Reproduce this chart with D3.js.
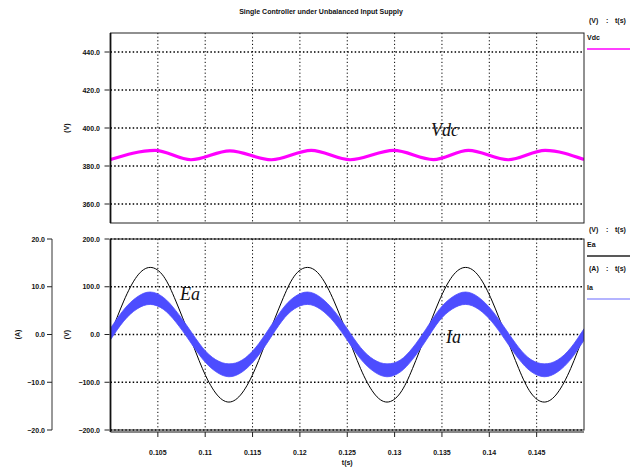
<!DOCTYPE html>
<html>
<head>
<meta charset="utf-8">
<script src="https://cdn.jsdelivr.net/npm/d3@7"></script>
<style>
  html, body { margin: 0; padding: 0; background: #fff; }
  svg { display: block; }
  text { font-family: "Liberation Sans", Arial, sans-serif; font-weight: bold; fill: #111; }
  .trace-label { font-family: "Liberation Serif", "Times New Roman", serif; font-style: italic; font-weight: normal; }
</style>
</head>
<body>
<script>
// ---- data ----
const title = "Single Controller under Unbalanced Input Supply";

// time axis (s)
const xTicks = [0.105, 0.11, 0.115, 0.12, 0.125, 0.13, 0.135, 0.14, 0.145];
const xTickLabels = ["0.105", "0.11", "0.115", "0.12", "0.125", "0.13", "0.135", "0.14", "0.145"];

// DC link voltage: ripple crests and troughs
const vdcTime  = [0.1000, 0.1047, 0.1085, 0.1126, 0.1170, 0.1212, 0.1253, 0.1299, 0.1341, 0.1378, 0.1420, 0.1459, 0.1500];
const vdcValue = [383.4, 388.2, 383.3, 388.0, 383.3, 388.2, 383.3, 388.2, 383.4, 388.2, 383.3, 388.2, 383.4];
const vdcTicks = [360, 380, 400, 420, 440];

// phase-a supply voltage and current, sampled every 1/12 cycle
const acTime = [0.1000, 0.1014, 0.1028, 0.1042, 0.1056, 0.1069, 0.1083, 0.1097, 0.1111, 0.1125,
                0.1139, 0.1153, 0.1167, 0.1181, 0.1194, 0.1208, 0.1222, 0.1236, 0.1250, 0.1264,
                0.1278, 0.1292, 0.1306, 0.1319, 0.1333, 0.1347, 0.1361, 0.1375, 0.1389, 0.1403,
                0.1417, 0.1431, 0.1444, 0.1458, 0.1472, 0.1486, 0.1500];
const eaValue = [0, 70, 122, 140.5, 122, 70, 0, -71, -122.5, -141.5, -122.5, -71,
                 0, 70, 122, 140.5, 122, 70, 0, -71, -122.5, -141.5, -122.5, -71,
                 0, 70, 122, 140.5, 122, 70, 0, -71, -122.5, -141.5, -122.5, -71, 0];
const iaValue = [0.1, 4.0, 6.6, 7.6, 6.5, 3.8, 0, -3.9, -6.5, -7.5, -6.6, -4.0,
                 -0.1, 4.0, 6.6, 7.6, 6.5, 3.8, 0, -3.9, -6.5, -7.5, -6.6, -4.0,
                 -0.1, 4.0, 6.6, 7.6, 6.5, 3.8, 0, -3.9, -6.5, -7.5, -6.6, -4.0, 0];
// switching ripple half-width of the phase current (A)
const iaRipple = [1.2, 1.2, 1.25, 1.3, 1.25, 1.2, 1.2, 1.2, 1.25, 1.35, 1.25, 1.2,
                  1.2, 1.2, 1.25, 1.3, 1.25, 1.2, 1.2, 1.2, 1.25, 1.35, 1.25, 1.2,
                  1.2, 1.2, 1.25, 1.3, 1.25, 1.2, 1.2, 1.2, 1.25, 1.35, 1.25, 1.2, 1.2];
const vTicks = [-200, -100, 0, 100, 200];
const aTicks = [-20, -10, 0, 10, 20];

// ---- layout ----
const W = 634, H = 467;
const plotL = 110.5, plotR = 584;
const top1 = 33, bot1 = 223;
const top2 = 239, bot2 = 430;

const C_VDC = "#ff00ff", C_EA = "#000000", C_IA = "#4d4dff";

const svg = d3.select("body").append("svg").attr("width", W).attr("height", H);

const x = d3.scaleLinear().domain([0.1, 0.15]).range([plotL, plotR]);
const yDc = d3.scaleLinear().domain([350, 450]).range([bot1, top1]);
const yV = d3.scaleLinear().domain([-200, 200]).range([bot2, top2]);
const yA = d3.scaleLinear().domain([-20, 20]).range([bot2, top2]);
const fmt = d3.format(".1f");

svg.append("text").attr("x", 321).attr("y", 14).attr("text-anchor", "middle")
  .attr("font-size", 7).text(title);

const defs = svg.append("defs");
defs.append("clipPath").attr("id", "clip1").append("rect")
  .attr("x", plotL).attr("y", top1).attr("width", plotR - plotL).attr("height", bot1 - top1);
defs.append("clipPath").attr("id", "clip2").append("rect")
  .attr("x", plotL).attr("y", top2).attr("width", plotR - plotL).attr("height", bot2 - top2);

function grid(g, yScale, yVals, y0, y1) {
  g.selectAll(".vg").data(xTicks).join("line")
    .attr("x1", d => x(d)).attr("x2", d => x(d)).attr("y1", y0).attr("y2", y1)
    .attr("stroke", "#000").attr("stroke-width", 1).attr("stroke-dasharray", "1.2,2.4");
  g.selectAll(".hg").data(yVals).join("line")
    .attr("x1", plotL).attr("x2", plotR).attr("y1", d => yScale(d)).attr("y2", d => yScale(d))
    .attr("stroke", "#000").attr("stroke-width", 1.3).attr("stroke-dasharray", "1.5,2.2");
}

function yAxisLeft(yScale, vals, axisX, labelX) {
  const g = svg.append("g");
  g.selectAll("line").data(vals).join("line")
    .attr("x1", axisX - 5).attr("x2", axisX).attr("y1", d => yScale(d)).attr("y2", d => yScale(d))
    .attr("stroke", "#222").attr("stroke-width", 1);
  g.selectAll("text").data(vals).join("text")
    .attr("x", labelX).attr("y", d => yScale(d) + 2.5).attr("text-anchor", "end")
    .attr("font-size", 7).text(d => fmt(d));
  return g;
}

function unitLabel(txt, cx, cy) {
  svg.append("text").attr("transform", `translate(${cx},${cy}) rotate(-90)`)
    .attr("text-anchor", "middle").attr("font-size", 7).text(txt);
}

// ---- top panel: Vdc ----
const g1 = svg.append("g");
grid(g1, yDc, vdcTicks, top1, bot1);
yAxisLeft(yDc, vdcTicks, plotL - 1, 100);
unitLabel("(V)", 69, yDc(400));

svg.append("path")
  .datum(vdcTime.map((t, i) => [t, vdcValue[i]]))
  .attr("clip-path", "url(#clip1)")
  .attr("d", d3.line().x(d => x(d[0])).y(d => yDc(d[1])).curve(d3.curveMonotoneX))
  .attr("fill", "none").attr("stroke", C_VDC).attr("stroke-width", 3.2);

svg.append("text").attr("class", "trace-label").attr("x", 431).attr("y", 136)
  .attr("font-size", 18).text("Vdc");

svg.append("rect").attr("x", plotL).attr("y", top1).attr("width", plotR - plotL).attr("height", bot1 - top1)
  .attr("fill", "none").attr("stroke", "#222").attr("stroke-width", 1);
svg.append("line").attr("x1", plotL).attr("x2", plotL).attr("y1", top1).attr("y2", bot1)
  .attr("stroke", "#111").attr("stroke-width", 1.8);

// ---- bottom panel: Ea and Ia ----
const g2 = svg.append("g");
grid(g2, yV, vTicks, top2, bot2);
yAxisLeft(yV, vTicks, plotL - 1, 100);
unitLabel("(V)", 69, yV(0));

// separate current axis
const aAxisX = 52;
svg.append("line").attr("x1", aAxisX).attr("x2", aAxisX).attr("y1", yA(20)).attr("y2", yA(-20))
  .attr("stroke", "#333").attr("stroke-width", 1);
yAxisLeft(yA, aTicks, aAxisX, 45);
unitLabel("(A)", 20, yA(0));

const acData = acTime.map((t, i) => ({ t, ea: eaValue[i], ia: iaValue[i], r: iaRipple[i] }));

svg.append("path").datum(acData).attr("clip-path", "url(#clip2)")
  .attr("d", d3.line().x(d => x(d.t)).y(d => yV(d.ea)).curve(d3.curveNatural))
  .attr("fill", "none").attr("stroke", C_EA).attr("stroke-width", 1);

svg.append("path").datum(acData).attr("clip-path", "url(#clip2)")
  .attr("d", d3.area().x(d => x(d.t)).y0(d => yA(d.ia - d.r)).y1(d => yA(d.ia + d.r)).curve(d3.curveNatural))
  .attr("fill", C_IA).attr("stroke", C_IA).attr("stroke-width", 0.8);

svg.append("text").attr("class", "trace-label").attr("x", 180).attr("y", 300)
  .attr("font-size", 18).text("Ea");
svg.append("text").attr("class", "trace-label").attr("x", 446).attr("y", 343)
  .attr("font-size", 18).text("Ia");

svg.append("rect").attr("x", plotL).attr("y", top2).attr("width", plotR - plotL).attr("height", bot2 - top2)
  .attr("fill", "none").attr("stroke", "#222").attr("stroke-width", 1);
svg.append("line").attr("x1", plotL).attr("x2", plotL).attr("y1", top2).attr("y2", bot2 + 2)
  .attr("stroke", "#111").attr("stroke-width", 1.8);

// time axis
const xAxisY = bot2 + 2;
svg.append("line").attr("x1", plotL).attr("x2", plotR).attr("y1", xAxisY).attr("y2", xAxisY)
  .attr("stroke", "#111").attr("stroke-width", 1);
svg.append("g").selectAll("line").data(xTicks).join("line")
  .attr("x1", d => x(d)).attr("x2", d => x(d)).attr("y1", xAxisY).attr("y2", xAxisY + 5)
  .attr("stroke", "#222");
svg.append("g").selectAll("text").data(xTicks).join("text")
  .attr("x", d => x(d)).attr("y", 455).attr("text-anchor", "middle").attr("font-size", 7)
  .text((d, i) => xTickLabels[i]);
svg.append("text").attr("x", (plotL + plotR) / 2).attr("y", 465).attr("text-anchor", "middle")
  .attr("font-size", 7).text("t(s)");

// ---- legends ----
function unitHeader(unit, yy) {
  svg.append("text").attr("x", 589).attr("y", yy).attr("font-size", 7).text(unit);
  svg.append("text").attr("x", 606).attr("y", yy).attr("font-size", 7).text(":");
  svg.append("text").attr("x", 615).attr("y", yy).attr("font-size", 7).text("t(s)");
}
function legendEntry(name, yText, yLine, color, width) {
  svg.append("text").attr("x", 587).attr("y", yText).attr("font-size", 7).text(name);
  svg.append("line").attr("x1", 587).attr("x2", 630).attr("y1", yLine).attr("y2", yLine)
    .attr("stroke", color).attr("stroke-width", width);
}
unitHeader("(V)", 23);
legendEntry("Vdc", 40, 49, C_VDC, 1.3);
unitHeader("(V)", 232);
legendEntry("Ea", 247, 256, "#222", 1.4);
unitHeader("(A)", 271);
legendEntry("Ia", 290, 299, "#6a6aff", 1.2);
</script>
</body>
</html>
